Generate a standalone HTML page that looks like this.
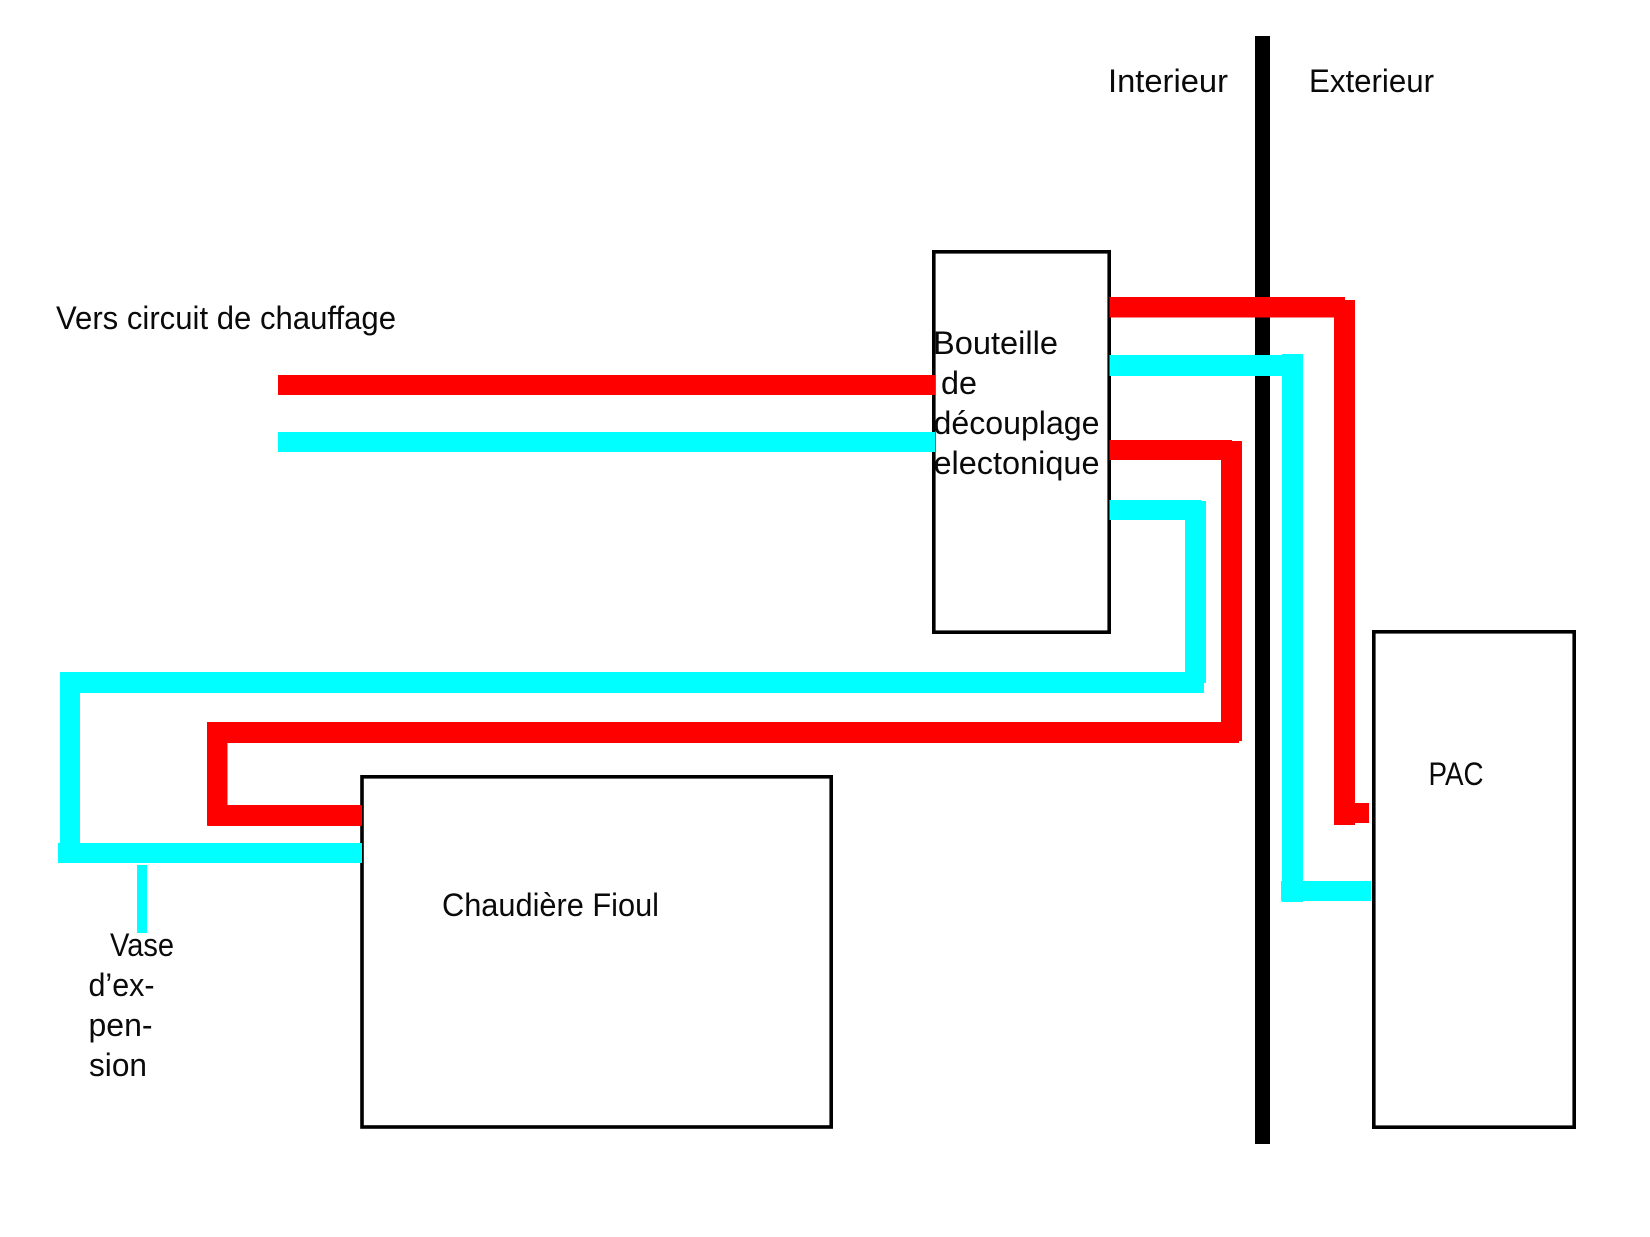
<!DOCTYPE html>
<html lang="fr">
<head>
<meta charset="utf-8">
<title>Schéma</title>
<style>
html,body{margin:0;padding:0;background:#fff;width:1650px;height:1237px;overflow:hidden}
svg{display:block}
text{font-family:"Liberation Sans",sans-serif;font-size:32px;fill:#0a0a0a}
</style>
</head>
<body>
<svg width="1650" height="1237" viewBox="0 0 1650 1237" xmlns="http://www.w3.org/2000/svg">
<rect width="1650" height="1237" fill="#fff"/>
<!-- boxes -->
<g fill="#fff" stroke="#000" stroke-width="3.6">
<rect x="933.8" y="251.8" width="175.4" height="380.4"/>
<rect x="362" y="776.8" width="469.2" height="350.2"/>
<rect x="1373.8" y="631.8" width="200.4" height="495.4"/>
</g>
<!-- wall -->
<rect x="1255" y="36" width="15" height="1108" fill="#000"/>
<!-- red pipes -->
<g fill="#f00">
<rect x="278" y="375" width="657" height="20"/>
<rect x="1109.500" y="297" width="235.500" height="20.500"/>
<rect x="1334" y="300" width="21" height="525"/>
<rect x="1334" y="803" width="35" height="20"/>
<rect x="1109.500" y="440" width="122.500" height="20"/>
<rect x="1221" y="441" width="21" height="300"/>
<rect x="207" y="722" width="1032" height="21"/>
<rect x="207" y="722" width="20.500" height="104" rx="2"/>
<rect x="207" y="805" width="155" height="21" rx="1"/>
</g>
<!-- cyan pipes -->
<g fill="#0ff">
<rect x="278" y="432" width="657" height="20"/>
<rect x="1109.500" y="355" width="179.500" height="21"/>
<rect x="1282" y="354" width="21" height="548"/>
<rect x="1281" y="881" width="90" height="20"/>
<rect x="1109.500" y="500" width="91.500" height="20"/>
<rect x="1185" y="501" width="21" height="182"/>
<rect x="60" y="672" width="1144" height="21"/>
<rect x="60" y="672" width="20" height="175"/>
<rect x="58" y="843" width="304" height="20"/>
<rect x="137" y="865" width="10" height="68"/>
</g>
<!-- labels -->
<text x="1108" y="92" textLength="120" lengthAdjust="spacingAndGlyphs">Interieur</text>
<text x="1309" y="92" textLength="125" lengthAdjust="spacingAndGlyphs">Exterieur</text>
<text x="56" y="329" textLength="340" lengthAdjust="spacingAndGlyphs">Vers circuit de chauffage</text>
<text x="933" y="354" textLength="125" lengthAdjust="spacingAndGlyphs">Bouteille</text>
<text x="941" y="394" textLength="36" lengthAdjust="spacingAndGlyphs">de</text>
<text x="933.500" y="434" textLength="166" lengthAdjust="spacingAndGlyphs">découplage</text>
<text x="933.500" y="474" textLength="166" lengthAdjust="spacingAndGlyphs">electonique</text>
<text x="1428.500" y="785" textLength="55" lengthAdjust="spacingAndGlyphs">PAC</text>
<text x="442" y="916" textLength="217" lengthAdjust="spacingAndGlyphs">Chaudière Fioul</text>
<text x="110" y="956" textLength="64" lengthAdjust="spacingAndGlyphs">Vase</text>
<text x="88.500" y="996" textLength="66" lengthAdjust="spacingAndGlyphs">d’ex-</text>
<text x="88.500" y="1036" textLength="64" lengthAdjust="spacingAndGlyphs">pen-</text>
<text x="89" y="1076" textLength="58" lengthAdjust="spacingAndGlyphs">sion</text>
</svg>
</body>
</html>
